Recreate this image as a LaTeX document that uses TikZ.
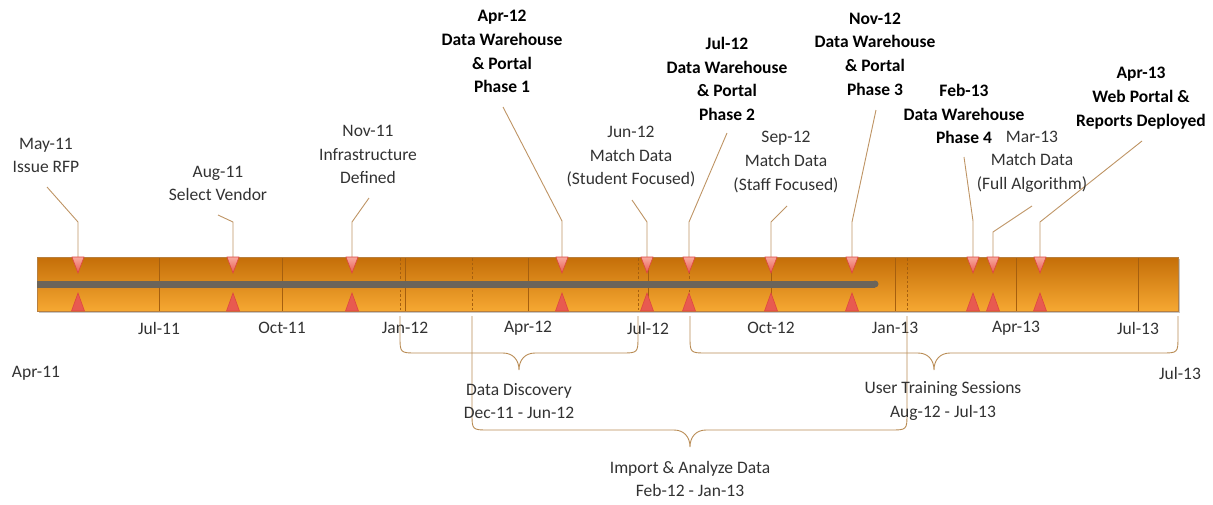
\documentclass[tikz,border=0pt]{standalone}
\usepackage{fontspec}
\setmainfont{Carlito}
\definecolor{connc}{RGB}{190,148,100}
\definecolor{barTop}{RGB}{196,110,8}
\definecolor{barBot}{RGB}{246,168,50}
\definecolor{divc}{RGB}{165,95,15}
\definecolor{grayline}{RGB}{107,100,90}
\definecolor{txt}{RGB}{50,50,50}
\definecolor{triA}{RGB}{248,170,160}
\definecolor{triB}{RGB}{232,90,80}
\definecolor{triE}{RGB}{222,70,65}
\definecolor{bracec}{RGB}{185,140,85}
\definecolor{bartop}{RGB}{222,170,105}
\begin{document}
\begin{tikzpicture}[x=1pt,y=-1pt,
  lbl/.style={align=center,font=\fontsize{17.5}{23.7}\selectfont,text=txt,inner sep=0pt},
  blbl/.style={align=center,font=\fontsize{17.5}{23.7}\selectfont\bfseries,text=black,inner sep=0pt},
  conn/.style={draw=connc,line width=0.9pt},
  brace/.style={draw=bracec,line width=0.9pt},
  divline/.style={draw=divc,line width=0.8pt},
  dashdiv/.style={draw=divc,line width=0.8pt,dash pattern=on 2.5pt off 2pt},
  tridown/.style={draw=triE,line width=0.6pt,top color=triA,bottom color=triB},
  triup/.style={draw=triE,line width=0.6pt,fill=triB}]
\useasboundingbox (0,0) rectangle (1213,504);

% connectors (label -> bend -> marker)
\coordinate (m1) at (78,257);   \coordinate (s1) at (47,187);  \coordinate (b1) at (78,222);
\coordinate (m2) at (233,257);  \coordinate (s2) at (218,215); \coordinate (b2) at (233,222);
\coordinate (m3) at (352,257);  \coordinate (s3) at (369,198); \coordinate (b3) at (352,222);
\coordinate (m4) at (562,257);  \coordinate (s4) at (503,107); \coordinate (b4) at (562,221);
\coordinate (m5) at (647,257);  \coordinate (s5) at (632,200); \coordinate (b5) at (647,222);
\coordinate (m6) at (689,257);  \coordinate (s6) at (727,133); \coordinate (b6) at (689,222);
\coordinate (m7) at (771,257);  \coordinate (s7) at (787,206); \coordinate (b7) at (771,222);
\coordinate (m8) at (852,257);  \coordinate (s8) at (876,110); \coordinate (b8) at (852,222);
\coordinate (m9) at (973,257);  \coordinate (s9) at (964,157); \coordinate (b9) at (973,221);
\coordinate (m10) at (993,257); \coordinate (s10) at (1032,206); \coordinate (b10) at (993,232);
\coordinate (m11) at (1040,257); \coordinate (s11) at (1142,141); \coordinate (b11) at (1040,222);
\foreach \i in {1,...,11} {\draw[conn] (s\i) -- (b\i) -- (m\i);}

% bar
\fill[gray!45] (39,259) rectangle (1180,313);
\shade[top color=barTop,bottom color=barBot] (37,257) rectangle (1178,311);
\draw[draw=bartop,line width=1pt] (37,257) -- (1178,257);
\draw[draw=divc!80,line width=0.5pt] (37,257) rectangle (1178,311);
\foreach \x in {159,282,405,528,648,771,895,1016,1138} {\draw[divline] (\x,258) -- (\x,311);}
\foreach \x in {400,472,638,689,907} {\draw[dashdiv] (\x,258) -- (\x,311);}
\fill[grayline] (37,280.5) rectangle (875,287.5);
\fill[grayline] (875,284) circle[radius=3.5pt];

% markers
\foreach \x in {78,233,352,562,647,689,771,852,973,993,1040} {
  \draw[tridown] (\x-6,257) -- (\x+6,257) -- (\x,273) -- cycle;
  \draw[triup] (\x-6.5,311) -- (\x+6.5,311) -- (\x,293) -- cycle;
}

% axis labels
\node[lbl] (ax1) at (159,328) {Jul-11};
\node[lbl] (ax2) at (282,328) {Oct-11};
\node[lbl] (ax3) at (405,328) {Jan-12};
\node[lbl] (ax4) at (528,328) {Apr-12};
\node[lbl] (ax5) at (648,328) {Jul-12};
\node[lbl] (ax6) at (771,328) {Oct-12};
\node[lbl] (ax7) at (895,328) {Jan-13};
\node[lbl] (ax8) at (1016,328) {Apr-13};
\node[lbl] (ax9) at (1138,328) {Jul-13};
\node[lbl] (start) at (36,373) {Apr-11};
\node[lbl] (end) at (1180,373) {Jul-13};

% braces
\draw[brace] (400,316) -- (400,336) .. controls (400,353) .. (417,353) -- (503,353)
  .. controls (513,353) and (519,360) .. (519,370) .. controls (519,360) and (525,353) .. (535,353)
  -- (621,353) .. controls (638,353) .. (638,336) -- (638,316);
\draw[brace] (472,316) -- (472,413) .. controls (472,430) .. (489,430) -- (674,430)
  .. controls (684,430) and (690,437) .. (690,447) .. controls (690,437) and (696,430) .. (706,430)
  -- (890,430) .. controls (907,430) .. (907,413) -- (907,316);
\draw[brace] (690,316) -- (690,336) .. controls (690,353) .. (707,353) -- (918,353)
  .. controls (928,353) and (934,360) .. (934,370) .. controls (934,360) and (940,353) .. (950,353)
  -- (1161,353) .. controls (1178,353) .. (1178,336) -- (1178,316);

\node[lbl] (dd) at (519,401) {Data Discovery\\Dec-11 - Jun-12};
\node[lbl] (ia) at (690,479) {Import \& Analyze Data\\Feb-12 - Jan-13};
\node[lbl] (ut) at (943,401) {User Training Sessions\\Aug-12 - Jul-13};

% event labels
\node[lbl] (l1) at (46,155.5) {May-11\\Issue RFP};
\node[lbl] (l2) at (218,183.5) {Aug-11\\Select Vendor};
\node[lbl] (l3) at (368,154.5) {Nov-11\\Infrastructure\\Defined};
\node[blbl] (l4) at (502,51.5) {Apr-12\\Data Warehouse\\\& Portal\\Phase 1};
\node[lbl] (l5) at (631,156.7) {Jun-12\\Match Data\\(Student Focused)};
\node[blbl] (l6) at (727,79) {Jul-12\\Data Warehouse\\\& Portal\\Phase 2};
\node[lbl] (l7) at (786,162) {Sep-12\\Match Data\\(Staff Focused)};
\node[blbl] (l8) at (875,54) {Nov-12\\Data Warehouse\\\& Portal\\Phase 3};
\node[blbl] (l9) at (964,114) {Feb-13\\Data Warehouse\\Phase 4};
\node[lbl] (l10) at (1032,161.7) {Mar-13\\Match Data\\(Full Algorithm)};
\node[blbl] (l11) at (1141,98) {Apr-13\\Web Portal \&\\Reports Deployed};
\end{tikzpicture}
\end{document}
